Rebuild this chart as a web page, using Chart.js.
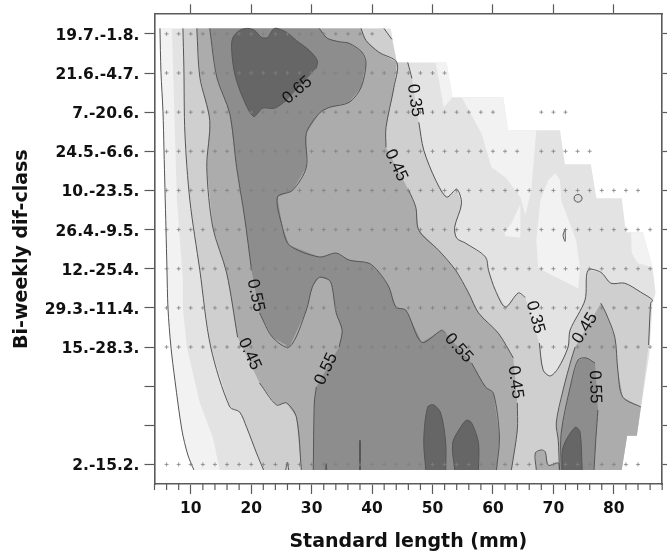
<!DOCTYPE html>
<html><head><meta charset="utf-8">
<style>html,body{margin:0;padding:0;background:#fff}canvas{display:block;filter:blur(0.45px)}</style>
<script src="https://cdn.jsdelivr.net/npm/chart.js@4/dist/chart.umd.min.js"></script>
</head><body><canvas id="c" width="667" height="554"></canvas>
<script>
// ---- axis content
const xMajorTicks=[10,20,30,40,50,60,70,80];
const xMinorTicks=[4,6,8,12,14,16,18,22,24,26,28,32,34,36,38,42,44,46,48,52,54,56,58,62,64,66,68,72,74,76,78,82,84,86,88];
const yRows=[0,1,2,3,4,5,6,7,8,9,10,11];
const yLabels=["2.-15.2.","","","15.-28.3.","29.3.-11.4.","12.-25.4.","26.4.-9.5.","10.-23.5.","24.5.-6.6.","7.-20.6.","21.6.-4.7.","19.7.-1.8."];
// ---- sampling grid (+ marks): length classes and last class present per row
const lengthClasses=[6,8,10,12,14,16,18,20,22,24,26,28,30,32,34,36,38,40,42,44,46,48,50,52,54,56,58,60,62,64,66,68,70,72,74,76,78,80,82,84,86];
const rowLastClass=[84,null,null,86,86,86,86,84,64,60,52,40];
const extraRow9=[68,70,72];
const extraRow8=[68,70,72,74,76];
// ---- domain edge
const edgeOuter=[[4.9,11.14],[43.1,11.14],[44.1,10.27],[52.3,10.27],[53.3,9.38],[61.7,9.38],[62.5,8.54],[71.1,8.54],[71.9,7.67],[76.2,7.67],[77.1,6.8],[81.3,6.8],[82,5.93],[84.8,5.93],[86.4,5.04],[86.9,4.38],[86.4,4.12],[85.9,2.84],[84.5,1.47],[83.8,.73],[82.2,.73],[81.3,-.14],[10.5,-.14]];
// ---- contours
const c25=[[4.9,11.14],[5.07,10.02],[5.4,9.02],[5.57,8.03],[5.73,7.03],[5.9,6.01],[6.06,5.01],[6.23,3.99],[6.72,3],[7.38,2.15],[8.53,.88],[9.52,.24],[10.51,-.14]];
const band30=[[6.88,11.14],[7.38,8.46],[7.71,6.75],[8.7,4.71],[8.7,3.99],[9.35,3],[11.5,1.57],[13.64,.7],[14.79,-.14]];
const lightA=[[52.34,10.27],[53.3,9.38],[61.7,9.38],[62.5,8.54],[67.17,8.54],[66.34,7],[65.35,6.37],[64.53,6.83],[62.06,7.34],[59.75,7.59],[58.1,8.46],[54.81,9.38],[53.3,9.38],[51.85,9.12],[50.53,10.27]];
const lightB=[[64.53,6.65],[63.05,6.16],[61.9,5.93],[62.06,5.83],[64.53,5.8]];
const lightC=[[70.3,7.44],[69.14,7.26],[67.83,6.75],[67.17,5.73],[67.5,5.01],[74.08,4.5],[74.4,5.01],[73.76,5.73],[71.28,6.75],[71.11,7.26]];
const lightD=[[82.84,5.93],[84.8,5.93],[86.4,5.04],[83.97,5.14],[82.97,5.4]];
const c35Left=[[8.7,11.14],[8.86,10.15],[9.03,8.46],[9.85,6.75],[11.5,4.96],[13.3,3],[16.44,1.47],[18.08,1.34],[19.24,.95],[20.88,.29],[22.04,-.14]];
const c35RightA=[[41.97,11.14],[43.28,10.86]];
const c35RightB=[[45.9,10.27],[46.6,9.86]];
const c35RightC=[[47.73,8.74],[48.55,8.03],[50.53,7.26],[52.34,6.83],[54,7.03],[54.8,6.67],[53.66,6.06],[54,5.78],[55.5,5.65],[58.76,5.3],[59.26,4.96],[60.4,4.45],[62.06,4.02],[64.2,4.38],[65.35,4.27]];
const c35RightD=[[67.67,3.1],[68.3,2.41],[69.47,2.26],[70.8,2.46],[72.43,3],[72.76,3.43],[75.23,4.2],[75.72,4.96],[77.86,4.91],[79.5,4.63],[81.8,4.63],[84.46,4.4],[86.4,4.2],[86.1,4.12],[85.75,3.05]];
const c35Tail=[[81.3,-.14],[82.2,.73],[83.8,.73],[84.5,1.47]];
const c45LeftA=[[11,11.14],[11.5,9.89],[13.14,8.79],[12.65,7.59],[13.64,6.06],[15.94,4.89],[17.75,3.25]];
const c45LeftB=[[21.38,2.08],[24.18,1.52],[25.83,1.57],[27.47,1.21],[28.3,-.14]];
const c45RightA=[[38.17,11.14],[39,10.83],[41.14,10.53],[44.1,10.27],[43.61,9.63],[42.3,8.61],[42.3,8.1]];
const c45RightB=[[46.08,7],[47.23,6.57],[47.73,5.98],[51.02,5.47],[53.82,4.96],[55.97,4.38],[57.61,3.87],[60.9,3.35],[63.37,2.72]];
const c45RightC=[[64.03,1.57],[64.03,.88],[63.05,-.14]];
const c45HumpA=[[71,-.14],[70.8,.62],[70.47,1.06],[71.6,1.9],[72.93,2.67],[73.6,3]];
const c45HumpB=[[77.86,4.12],[78.68,3.87],[80.16,3.25],[80.66,2.41],[81.48,1.72],[84.46,1.47]];
const c45Bump=[[67.17,-.14],[67,.29],[68,.37],[68.65,.32],[69.14,-.02],[70.8,.04],[71,-.14]];
const notchA=[[25.7,-.14],[26,.06],[26.2,-.14]];
const notchB=[[32.3,-.14],[32.4,.02],[32.5,-.14]];
const c55LeftA=[[13.14,11.14],[14.3,9.89],[16.44,8.97],[17.59,7.59],[18.9,6.32],[20.06,4.96]];
const c55LeftB=[[21.38,3.87],[23.52,3.25],[26.32,3],[29.12,3.94],[30.11,4.53],[31.26,4.78],[32.9,4.71],[33.4,4.53],[34.06,3.87],[35.05,3.43],[34.55,3]];
const c55LeftC=[[30.77,1.98],[30.44,1.57],[30.27,-.14]];
const c55RightA=[[31.26,11.14],[32.58,10.89],[34.55,10.8],[36.2,10.76],[38.34,10.53],[39,10.25],[38.17,9.63],[36.2,9.25],[32.9,9.12],[31.26,8.97],[29.12,8.46],[29.12,7.59],[26.82,7],[24.34,6.83],[25.17,6.06],[26.32,5.6],[31.26,5.3],[34.06,5.4],[36.2,5.22],[39.5,5.14],[41.14,4.91],[42.79,4.53],[43.94,4.02],[45.59,3.94],[48.23,3.12],[51.52,3.43],[52.18,3.35]];
const c55RightB=[[56.47,2.59],[58.76,1.98],[60.08,1.82],[61.07,.7],[60.58,-.14]];
const c55HumpA=[[71.28,-.14],[71.28,.8],[72.93,2.08],[74.08,2.67],[75.4,2.72],[76.88,2.59]];
const c55HumpB=[[77.37,1.39],[77.04,.7],[76.72,-.14]];
const c65=[[30.77,10.12],[30.93,10.32],[29.61,10.58],[27.47,10.83],[25.83,11.04],[23.85,11.14],[22.7,10.91],[21.71,10.91],[20.55,11.09],[19.4,11.14],[18.08,11.09],[16.93,10.89],[16.77,10.58],[17.26,9.99],[18.58,9.38],[20.39,8.89],[21.87,9.1],[23.85,9.1],[25.83,9.3]];
const core1=[[48.88,-.14],[48.55,.62],[49.2,1.47],[50.2,1.52],[51.36,1.31],[52.18,.55],[52.18,-.14]];
const core2=[[53.66,-.14],[53.33,.55],[54.65,.95],[55.63,1.13],[56.47,1.06],[57.6,.55],[57.6,-.14]];
const core3=[[71.44,-.14],[71.6,.44],[73.6,.95],[74.4,.83],[74.76,-.14]];
const spike=[[38,.62],[38,-.14]];
const ringSmall=[[74.08,6.9],[74.55,6.87],[74.74,6.8],[74.55,6.73],[74.08,6.7],[73.6,6.73],[73.42,6.8],[73.6,6.87],[74.08,6.9]];
const ringLens=[[71.94,6.01],[71.6,5.85],[71.94,5.7],[71.94,6.01]];
// ---- contour labels
const labelText=["0.65","0.35","0.45","0.55","0.45","0.55","0.55","0.45","0.35","0.45","0.55"];
const labelX=[27.64,47.07,43.94,20.72,19.73,32.41,54.32,63.7,67,75.23,76.88];
const labelY=[9.56,9.3,7.64,4.32,2.82,2.44,2.97,2.1,3.76,3.48,1.98];
const labelAngle=[-40,82,65,78,65,-65,48,82,75,-58,88];

const G={l0:'#f2f2f2',l1:'#e3e3e3',l2:'#cfcfcf',l3:'#acacac',l4:'#8d8d8d',l5:'#666666'};
const pts=a=>a.map(p=>({x:p[0],y:p[1]}));
const rev=a=>a.slice().reverse();
const area=(a,c,t)=>({data:pts(a),showLine:true,fill:'shape',backgroundColor:c,borderWidth:0,borderColor:c,pointRadius:0,tension:t||0});
const line=(a,w,c)=>({data:pts(a),showLine:true,fill:false,borderColor:c||'#555',borderWidth:w||1,pointRadius:0,tension:.3});

const marks=[];
rowLastClass.forEach((last,row)=>{ if(last===null)return; lengthClasses.forEach(v=>{ if(v<=last) marks.push({x:v,y:row}); }); });
extraRow9.forEach(v=>marks.push({x:v,y:9}));
extraRow8.forEach(v=>marks.push({x:v,y:8}));

const layers=[
 area([...edgeOuter,...rev(c25)],G.l1),
 area([...c25,...rev(band30)],G.l0),
 area(lightA,G.l0),area(lightB,G.l0),area(lightC,G.l0),area(lightD,G.l0),
 area([...c35Left,...c35Tail,...rev(c35RightD),...rev(c35RightC),...rev(c35RightB),[44.1,10.27],...rev(c35RightA)],G.l2),
 area([...c45LeftA,...c45LeftB,...rev(c45RightC),...rev(c45RightB),...rev(c45RightA)],G.l3),
 area([...c45HumpA,...c45HumpB,[83.8,.73],[82.2,.73],[81.3,-.14]],G.l3),
 area(c45Bump,G.l3),
 area([...c55LeftA,...c55LeftB,...c55LeftC,...rev(c55RightB),...rev(c55RightA)],G.l4),
 area([...c55HumpA,...c55HumpB],G.l4),
 area(c65,G.l5,.3),area(core1,G.l5,.3),area(core2,G.l5,.3),area(core3,G.l5,.3),
 area(ringSmall,'#dcdcdc',.3),
 ...[c25,c35Left,c35RightA,c35RightB,c35RightC,c35RightD,c45LeftA,c45LeftB,c45RightA,c45RightB,c45RightC,c45HumpA,c45HumpB,c45Bump,notchA,notchB,c55LeftA,c55LeftB,c55LeftC,c55RightA,c55RightB,c55HumpA,c55HumpB,c65,core1,core2,core3,ringSmall,ringLens].map(a=>line(a)),
 line(spike,1.5,'#444'),
 {data:marks,showLine:false,pointStyle:'cross',pointRadius:2,pointBorderWidth:.8,pointBorderColor:'#808080',borderColor:'#808080'}
];

const axisCol='#5a5a5a';
const boldFont={family:'"DejaVu Sans"',weight:'bold',size:15.5};
const titleFont={family:'"DejaVu Sans"',weight:'bold',size:19};
const setMajor=s=>{s.ticks=xMajorTicks.map(v=>({value:v}));};
const setRows=s=>{s.ticks=yRows.map(v=>({value:v}));};
const gridCfg={drawOnChartArea:false,drawTicks:true,tickLength:10,tickColor:axisCol,tickWidth:1.2};
const borderCfg={display:true,color:axisCol,width:1.6};

const helpers={id:'helpers',afterDraw(ch){
  const {ctx,scales:{x,y},chartArea:a}=ch;
  ctx.save();
  ctx.strokeStyle=axisCol;ctx.lineWidth=1.2;
  xMinorTicks.forEach(v=>{const p=x.getPixelForValue(v);ctx.beginPath();ctx.moveTo(p,a.bottom);ctx.lineTo(p,a.bottom+6);ctx.stroke();});
  ctx.fillStyle='#111';ctx.font='17px "Liberation Sans"';ctx.textAlign='center';ctx.textBaseline='middle';
  labelText.forEach((t,i)=>{ctx.save();ctx.translate(x.getPixelForValue(labelX[i]),y.getPixelForValue(labelY[i]));ctx.rotate(labelAngle[i]*Math.PI/180);ctx.fillText(t,0,0);ctx.restore();});
  ctx.restore();
}};

new Chart(document.getElementById('c'),{
 type:'scatter',
 data:{datasets:layers.reverse()},
 plugins:[helpers],
 options:{responsive:false,animation:false,events:[],
  layout:{padding:0},
  plugins:{legend:{display:false},tooltip:{enabled:false},title:{display:false}},
  scales:{
   x:{type:'linear',position:'bottom',min:4,max:88,afterBuildTicks:setMajor,afterFit(s){s.height=70;},
      grid:gridCfg,border:borderCfg,
      ticks:{color:'#111',font:boldFont,padding:6,maxRotation:0,autoSkip:false,callback:v=>String(v)},
      title:{display:true,text:'Standard length (mm)',color:'#111',font:titleFont,padding:{top:0,bottom:1}}},
   xTop:{type:'linear',position:'top',min:4,max:88,afterBuildTicks:setMajor,afterFit(s){s.height=14;},
      grid:gridCfg,border:borderCfg,ticks:{display:false}},
   y:{type:'linear',position:'left',min:-.5,max:11.5,afterBuildTicks:setRows,afterFit(s){s.width=154.5;},
      grid:gridCfg,border:borderCfg,
      ticks:{color:'#111',font:boldFont,padding:5,labelOffset:2,autoSkip:false,callback:v=>yLabels[v]},
      title:{display:true,text:'Bi-weekly dif-class',color:'#111',font:titleFont,padding:{top:11,bottom:0}}},
   yRight:{type:'linear',position:'right',min:-.5,max:11.5,afterBuildTicks:setRows,afterFit(s){s.width=2.5;},
      grid:gridCfg,border:borderCfg,ticks:{display:false}}
  }
 }
});
</script></body></html>
